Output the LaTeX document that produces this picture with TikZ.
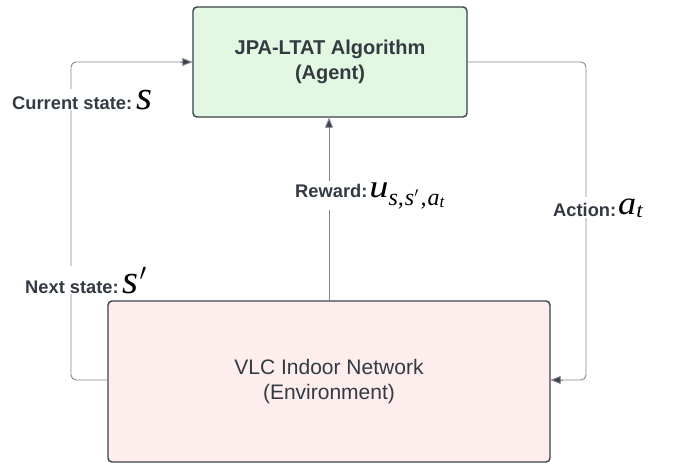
\documentclass[tikz,border=0pt]{standalone}
\usepackage{fix-cm}
\usepackage{graphicx}
\usepackage{fontspec}
\setmainfont{Liberation Sans}
\newfontfamily\mvar{Liberation Serif}
\usetikzlibrary{arrows.meta}
\definecolor{boxborder}{HTML}{3A414A}
\definecolor{agentfill}{HTML}{E3F8E3}
\definecolor{envfill}{HTML}{FDEDED}
\definecolor{txt}{HTML}{333A42}
\definecolor{wire}{HTML}{7F858C}
\tikzset{
  blockbox/.style={draw=boxborder, line width=1.4pt, rounded corners=4pt, text=txt, align=center, inner sep=0pt},
  wirelink/.style={draw=wire, line width=0.9pt, rounded corners=5pt},
  tip/.style={-{Triangle[length=10pt,width=8pt,fill=boxborder]}},
  lbl/.style={fill=white, text=txt, inner sep=1pt, font=\fontsize{18.3}{20}\selectfont\bfseries},
}
\newcommand{\mv}[2]{{\color{black}\fontsize{#1}{#1}\selectfont\mvar\mdseries\itshape #2}}
\newcommand{\mprime}[1]{{\color{black}\fontsize{#1}{#1}\selectfont\mdseries$'$}}
\begin{document}
\begin{tikzpicture}[x=1pt,y=-1pt]
\useasboundingbox (0,0) rectangle (673,464);
\node[blockbox, fill=agentfill, minimum width=274pt, minimum height=110pt,
  font=\fontsize{20}{25}\selectfont\bfseries] (agent) at (330,62) {JPA-LTAT Algorithm\\(Agent)};
\node[blockbox, fill=envfill, minimum width=442pt, minimum height=161pt,
  font=\fontsize{21}{24.5}\selectfont] (env) at (329,381.5) {VLC Indoor Network\\(Environment)};
\coordinate (lb) at (71,380);
\coordinate (lt) at (71,62);
\coordinate (rt) at (586,62);
\coordinate (rb) at (586,380);
% left loop
\draw[wirelink] (env.west |- lb) -- (lb) -- (lt) -- (agent.west |- lt);
\draw[draw=wire, line width=0.9pt, tip] ([xshift=-12pt]agent.west |- lt) -- (agent.west |- lt);
% right loop
\draw[wirelink] (agent.east |- rt) -- (rt) -- (rb) -- (env.east |- rb);
\draw[draw=wire, line width=0.9pt, tip] ([xshift=12pt]env.east |- rb) -- (env.east |- rb);
% reward
\draw[draw=wire, line width=0.9pt, tip] (env.north -| 329,0) -- (agent.south -| 329,0);
% labels
\node[lbl, anchor=base west] (cs) at (11,109) {Current state:\kern4pt\mv{41}{s}};
\node[lbl, anchor=base west] (ns) at (24,293) {Next state:\kern4pt\mv{41}{s}\kern1pt\mprime{34}};
\node[lbl, anchor=base west] (rw) at (294,197) {Reward:\kern2pt\scalebox{1.2}[1]{\mv{32}{u}}\raisebox{-8pt}{\mv{24}{s,\kern1pt s}\mprime{20}\mv{24}{\kern2pt,\kern1pt a}\raisebox{-2pt}{\mv{17}{t}}}};
\node[lbl, anchor=base west] (ac) at (552,216) {Action:\kern2pt\raisebox{2pt}{\scalebox{1.1}[1]{\mv{33}{a}\raisebox{-3pt}{\mv{21}{t}}}}};
\end{tikzpicture}
\end{document}
